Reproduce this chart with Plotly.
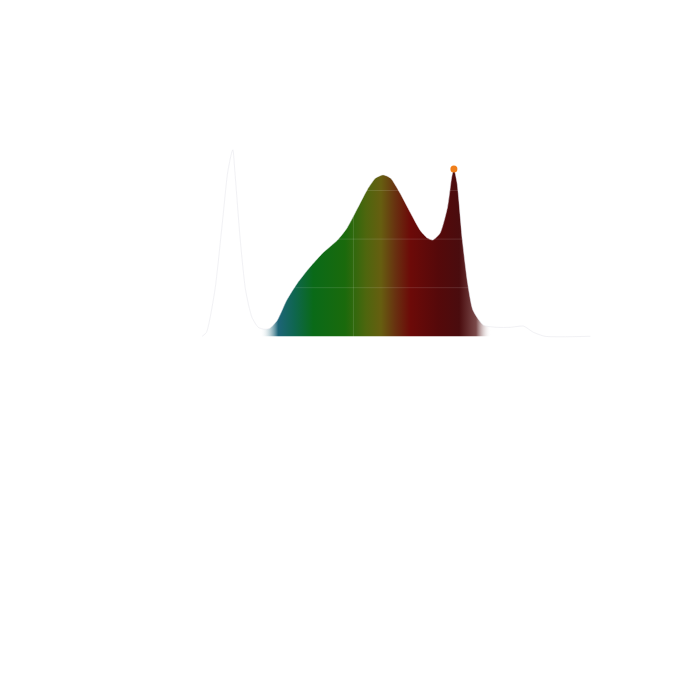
import plotly.graph_objects as go

# Spectrum data (wavelength in nm, relative intensity)
wavelength = [421, 425, 433, 440, 445, 449, 450, 452, 457, 462, 468, 474, 480, 485,
              492, 501, 511, 523, 535, 549, 558, 567, 577, 585, 592, 599, 608, 618,
              627, 634, 639, 646, 653, 657, 659, 662, 667, 672, 677, 687, 700, 712,
              725, 734, 745, 788]
intensity = [0.0, 0.02, 0.237, 0.582, 0.840, 0.948, 0.959, 0.840, 0.495, 0.237, 0.098,
             0.046, 0.036, 0.041, 0.082, 0.186, 0.273, 0.356, 0.428, 0.495, 0.557, 0.649,
             0.753, 0.814, 0.830, 0.814, 0.737, 0.634, 0.546, 0.505, 0.495, 0.531, 0.665,
             0.820, 0.861, 0.789, 0.495, 0.273, 0.134, 0.057, 0.046, 0.046, 0.052, 0.021,
             0.0, 0.0]

peak_wavelength = [659]
peak_intensity = [0.861]

grid_y = [0.25, 0.5, 0.75]
grid_x = [564]

fig = go.Figure()

fig.add_trace(go.Scatter(
    x=wavelength, y=intensity,
    mode="lines",
    line=dict(color="rgba(228,228,234,0.5)", width=1, shape="spline", smoothing=0.6),
    fill="tozeroy",
    fillgradient=dict(
        type="horizontal", start=400, stop=800,
        colorscale=[
            [0.0, "rgba(255,255,255,0)"],
            [0.19, "rgba(255,255,255,0)"],
            [0.232, "#1d6478"],
            [0.27, "#0f6650"],
            [0.315, "#0a6a18"],
            [0.39, "#1a6a0c"],
            [0.44, "#4e660e"],
            [0.475, "#665e10"],
            [0.51, "#683010"],
            [0.545, "#6c0a08"],
            [0.61, "#55090a"],
            [0.66, "#4a0c0e"],
            [0.7, "#7a4a4a"],
            [0.735, "rgba(255,255,255,0)"],
            [1.0, "rgba(255,255,255,0)"],
        ],
    ),
    hoverinfo="skip",
    showlegend=False,
))

fig.add_trace(go.Scatter(
    x=peak_wavelength, y=peak_intensity,
    mode="markers",
    marker=dict(color="#f07f1a", size=7),
    showlegend=False,
))

for gy in grid_y:
    fig.add_shape(type="line", xref="paper", x0=0, x1=1, yref="y", y0=gy, y1=gy,
                  line=dict(color="rgba(255,255,255,0.13)", width=1), layer="above")
for gx in grid_x:
    fig.add_shape(type="line", xref="x", x0=gx, x1=gx, yref="paper", y0=0, y1=1,
                  line=dict(color="rgba(255,255,255,0.13)", width=1), layer="above")

fig.update_layout(
    width=700, height=700,
    margin=dict(l=172, r=105, t=95, b=362),
    paper_bgcolor="white", plot_bgcolor="white",
    xaxis=dict(range=[400, 800], showgrid=False, zeroline=False,
               showticklabels=False, ticks=""),
    yaxis=dict(range=[-0.05, 1.2], showgrid=False, zeroline=False,
               showticklabels=False, ticks=""),
)

fig.write_html("out.html")
